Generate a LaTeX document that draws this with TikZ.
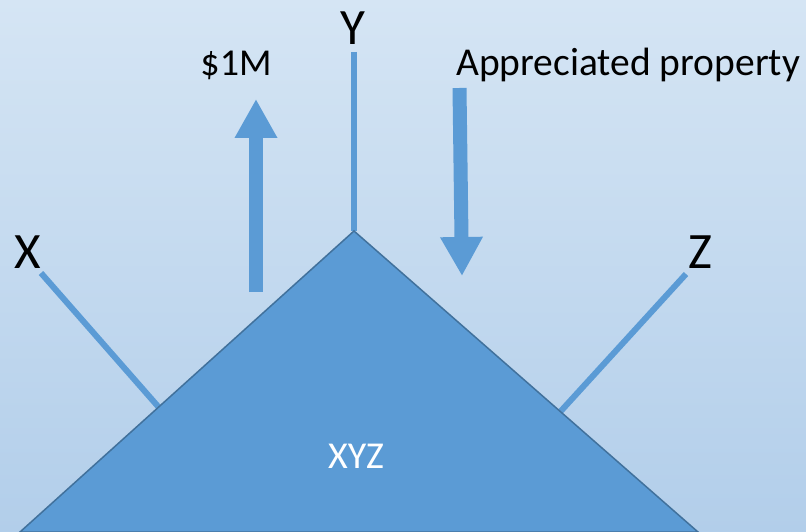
\documentclass[tikz,border=0pt]{standalone}
\usepackage{fontspec}
\setmainfont{Carlito}
\usetikzlibrary{arrows.meta,calc}
\definecolor{skytop}{HTML}{D5E5F4}
\definecolor{skybot}{HTML}{B2CEEA}
\definecolor{fillblue}{HTML}{5B9BD5}
\definecolor{edgeblue}{HTML}{41719C}

\begin{document}
\begin{tikzpicture}[x=1pt, y=-1pt,
    stem/.style={fillblue, line width=6pt},
    flow/.style={fillblue, line width=14pt, -{Triangle[width=40pt,length=39pt]}},
    bigname/.style={font=\fontsize{51}{60}\selectfont, inner sep=0pt, anchor=base},
    smallname/.style={font=\fontsize{38}{46}\selectfont, inner sep=0pt, anchor=base}]
    % background
    \useasboundingbox (0,0) rectangle (806,532);
    \shade[top color=skytop, bottom color=skybot] (0,0) rectangle (806,532);
    % corners of the triangle
    \coordinate (apex) at (354,231);
    \coordinate (bl) at (20,532);
    \coordinate (br) at (698,532);
    % labels
    \node[bigname] (labY) at (353,45) {Y};
    \node[bigname] (labX) at (28,268) {X};
    \node[bigname] (labZ) at (700,268) {Z};
    \node[smallname] (labcash) at (236,76) {\$1M};
    \node[smallname, font=\fontsize{39.5}{46}\selectfont, anchor=base west] (labprop) at (456,76) {Appreciated property};
    % stems to the owners
    \coordinate (topY) at (354,52);
    \coordinate (topX) at (41,273);
    \coordinate (topZ) at (686,274);
    \draw[stem] (topY) -- (apex);
    \draw[stem] (topX) -- ($(apex)!0.585!(bl)$);
    \draw[stem] (topZ) -- ($(apex)!0.60!(br)$);
    % the entity
    \filldraw[fill=fillblue, draw=edgeblue, line width=1.5pt] (bl) -- (apex) -- (br) -- cycle;
    \node[smallname, white] (labXYZ) at (356,468) {XYZ};
    % transfers
    \coordinate (cashlow) at (256,292);
    \coordinate (cashtip) at (256,99);
    \coordinate (proptop) at (459.5,88);
    \coordinate (proptip) at (462,276);
    \draw[flow] (cashlow) -- (cashtip);
    \draw[flow] (proptop) -- (proptip);
  \end{tikzpicture}
\end{document}
